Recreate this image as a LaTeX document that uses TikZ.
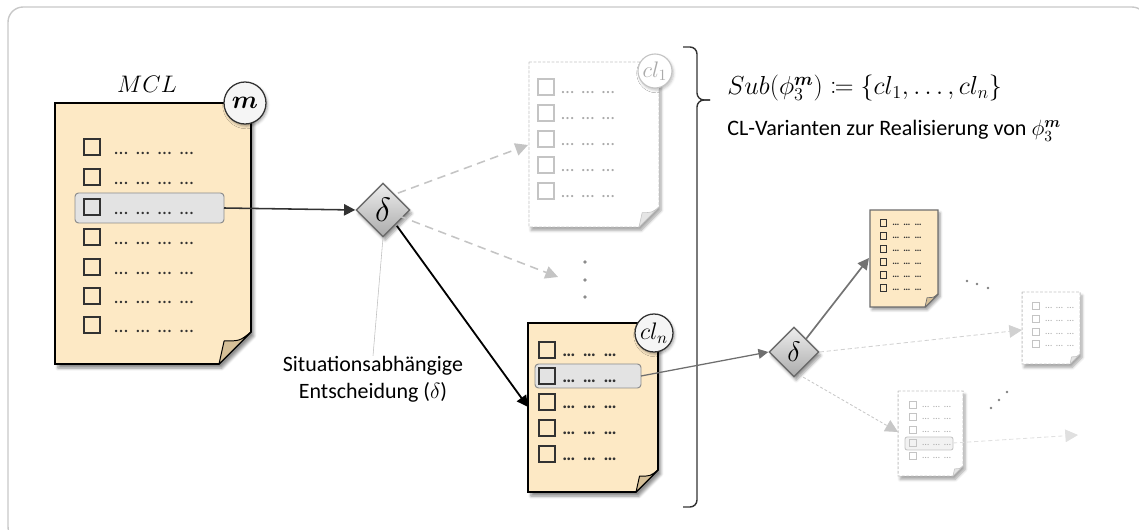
\RequirePackage{fix-cm}
\documentclass[tikz,border=0pt]{standalone}
\usepackage{amsmath,bm,mathtools}
\usepackage{fontspec}
\setmainfont{Carlito}
\usetikzlibrary{arrows.meta,shapes.geometric,shadows.blur,fit,calc}

\definecolor{paper}{RGB}{253,233,197}
\definecolor{foldtan}{RGB}{214,192,152}
\definecolor{hlfill}{RGB}{227,227,227}
\definecolor{hlline}{RGB}{140,140,140}
\definecolor{framegray}{RGB}{200,200,200}
\definecolor{fade}{RGB}{196,196,196}
\definecolor{fadetext}{RGB}{170,170,170}
\definecolor{inkdark}{RGB}{50,50,50}
\definecolor{midgray}{RGB}{110,110,110}

\tikzset{
  docsolid/.style={fill=paper, draw=black, line width=1.1pt, line join=miter,
    blur shadow={shadow xshift=2pt, shadow yshift=-3pt, shadow blur steps=6, shadow opacity=45}},
  docsmall/.style={fill=paper, draw=midgray, line width=1pt, line join=miter,
    blur shadow={shadow xshift=1.5pt, shadow yshift=-2pt, shadow blur steps=5, shadow opacity=40}},
  docfaded/.style={fill=white, draw=fade, dashed, dash pattern=on 2pt off 1.2pt, line width=0.7pt,
    blur shadow={shadow xshift=1.5pt, shadow yshift=-2.5pt, shadow blur steps=6, shadow opacity=35}},
  foldsolid/.style={fill=foldtan, draw=black, line width=0.7pt, line join=round},
  foldsmall/.style={fill=foldtan, draw=midgray, line width=0.5pt, line join=round},
  foldfaded/.style={fill=black!10, draw=fade, line width=0.4pt, line join=round},
  boxsolid/.style={draw=inkdark, line width=0.9pt},
  boxsmall/.style={draw=inkdark, line width=0.5pt},
  boxfaded/.style={draw=fade, line width=0.8pt},
  boxfadedsmall/.style={draw=fade, line width=0.5pt},
  dotstext/.style={inner sep=0pt, anchor=base west, text=inkdark},
  hlbar/.style={fill=hlfill, draw=hlline, line width=0.7pt, rounded corners=2.5pt},
  hlbarfaded/.style={fill=black!5, draw=fade, line width=0.6pt, rounded corners=1.5pt},
  tagcircle/.style={circle, inner sep=0pt, fill=white!96!black, draw=inkdark, line width=0.9pt,
    blur shadow={shadow xshift=1pt, shadow yshift=-1.5pt, shadow blur steps=4, shadow opacity=35}},
  tagfaded/.style={circle, inner sep=0pt, fill=white, draw=fade, line width=0.8pt, text=fadetext,
    blur shadow={shadow xshift=1pt, shadow yshift=-1.5pt, shadow blur steps=4, shadow opacity=25}},
  decision/.style={diamond, aspect=1, inner sep=0pt, top color=black!7, bottom color=black!33,
    draw=black!58, line width=1pt,
    blur shadow={shadow xshift=1.5pt, shadow yshift=-2.5pt, shadow blur steps=5, shadow opacity=40}},
  tip/.style={-{Triangle[length=8pt,width=8pt]}},
  smalltip/.style={-{Triangle[length=7pt,width=7pt]}},
  fadetip/.style={-{Triangle[length=9pt,width=9pt]}},
  ghostdot/.style={fill=black!45, draw=none},
}

% wider word gaps between the ellipsis groups
\newcommand\dotsfont[1]{\fontsize{#1}{#1}\selectfont\spaceskip=0.42em plus 0em minus 0em\relax}

% paper sheet with a folded lower right corner, plus a named box over it
\newcommand\paperdoc[7][]{%
  \path[#1] (#3,#4) -- (#5,#4) -- (#5,#6-#7) -- (#5-#7,#6) -- (#3,#6) -- cycle;
  \node[fit={(#3,#4) (#5,#6)}, inner sep=0pt] (#2) {};
}
\newcommand\paperfold[4][]{%
  \path[#1] (#2,#3-#4) .. controls (#2-0.35*#4,#3-0.72*#4) .. (#2-0.84*#4,#3-0.72*#4)
     -- (#2-#4,#3) -- cycle;
}

\begin{document}
\begin{tikzpicture}[x=0.025cm,y=-0.025cm]
\useasboundingbox (0,0) rectangle (1139,530);
\begin{scope}
\clip (0,0) rectangle (1139,530);
\draw[framegray, line width=1pt, rounded corners=0.38cm] (8,7) rectangle (1147,542);
\end{scope}

% ---------------- master checklist MCL ----------------
\paperdoc[docsolid]{mcl}{55}{103}{251}{364}{32}
\paperfold[foldsolid]{251}{364}{32}
\path[hlbar] (75,193) rectangle (224,223);
\coordinate (mclsel) at (224,208);
\foreach \yy [count=\i] in {147,177,207,237,267,296,325}{
  \draw[boxsolid] (84,\yy-8) rectangle (100,\yy+8);
  \node[dotstext, font=\dotsfont{14}] (mclrow\i) at (114,\yy+8) {… … … …};
}
\node[tagcircle, minimum size=1.05cm, font=\fontsize{18}{18}\selectfont] (tagm) at (245,103) {$\bm{m}$};
\node[font=\fontsize{17}{17}\selectfont] (mcllabel) at (147,84) {$MCL$};

% ---------------- first decision ----------------
\node[decision, minimum size=1.35cm, font=\fontsize{24}{24}\selectfont] (dec1) at (383,210) {$\delta$};

% ---------------- variant cl_1 (not chosen) ----------------
\paperdoc[docfaded]{clone}{529}{62}{659}{227}{20}
\paperfold[foldfaded]{659}{227}{20}
\foreach \yy [count=\i] in {87,113,139,165,191}{
  \draw[boxfaded] (538,\yy-8) rectangle (554,\yy+8);
  \node[dotstext, text=fadetext, font=\dotsfont{13}] (clonerow\i) at (561,\yy+7) {… … …};
}
\node[tagfaded, minimum size=0.85cm, font=\fontsize{16}{16}\selectfont] (tagone) at (655,71) {$cl_1$};

% vertical ellipsis between the variants
\foreach \yy [count=\i] in {262,280,297}{
  \fill[ghostdot] (585,\yy) circle (1.8) coordinate (vdot\i);
}
\coordinate (midtarget) at (558,277);

% ---------------- variant cl_n (chosen) ----------------
\paperdoc[docsolid]{cln}{528}{323}{658}{492}{22}
\paperfold[foldsolid]{658}{492}{22}
\path[hlbar] (535,364) rectangle (641,388);
\coordinate (clnsel) at (641,376);
\foreach \yy [count=\i] in {350,376,402,428,454}{
  \draw[boxsolid] (539,\yy-8) rectangle (555,\yy+8);
  \node[dotstext, font=\bfseries\dotsfont{13}] (clnrow\i) at (562,\yy+7) {… … …};
}
\node[tagcircle, minimum size=0.95cm, font=\fontsize{17}{17}\selectfont] (tagn) at (654,333) {$cl_n$};

% ---------------- brace and set definition ----------------
\coordinate (brtop) at (683,47);
\coordinate (brbot) at (683,507);
\coordinate (brtip) at (710,100);
\draw[inkdark, line width=1pt, rounded corners=5pt] (brtop) -- (697,47) -- (697,100) -- (brtip);
\draw[inkdark, line width=1pt, rounded corners=5pt] (brtip) -- (697,100) -- (697,507) -- (brbot);
\node[anchor=west, inner sep=0pt, font=\fontsize{18.5}{19}\selectfont] (subdef) at (727,88)
  {$Sub(\phi_3^{\bm{m}}) \coloneqq \{cl_1, \ldots, cl_n\}$};
\node[anchor=west, inner sep=0pt, font=\fontsize{15.7}{16}\selectfont] (subtext) at (727,131)
  {CL-Varianten zur Realisierung von $\phi_3^{\bm{m}}$};

% ---------------- decision label ----------------
\node[align=center, inner sep=0pt, font=\fontsize{15.6}{19}\selectfont] (declabel) at (373,379)
  {Situationsabhängige\\Entscheidung ($\delta$)};
\draw[black!25, line width=0.4pt] (dec1.south) -- (declabel.north);

% ---------------- second decision ----------------
\node[decision, minimum size=1.25cm, font=\fontsize{20}{20}\selectfont] (dec2) at (794,352) {$\delta$};

% next checklist (chosen)
\paperdoc[docsmall]{nexta}{870}{210}{938}{307}{13}
\paperfold[foldsmall]{938}{307}{13}
\foreach \yy [count=\i] in {223,236,249,262,275,288}{
  \draw[boxsmall] (880,\yy-3.3) rectangle (886.6,\yy+3.3);
  \node[dotstext, font=\bfseries\dotsfont{7}] (nextarow\i) at (892,\yy+3) {… … …};
}

% next checklist (not chosen, right)
\paperdoc[docfaded]{nextb}{1022}{292}{1080}{364}{10}
\paperfold[foldfaded]{1080}{364}{10}
\foreach \yy [count=\i] in {306,319,332,344}{
  \draw[boxfadedsmall] (1032,\yy-3.5) rectangle (1039,\yy+3.5);
  \node[dotstext, text=fadetext, font=\dotsfont{7}] (nextbrow\i) at (1045,\yy+3) {… … …};
}

% next checklist (not chosen, bottom)
\paperdoc[docfaded]{nextc}{898}{391}{963}{476}{10}
\paperfold[foldfaded]{963}{476}{10}
\path[hlbarfaded] (905,437) rectangle (953,450);
\coordinate (nextcsel) at (953,443);
\foreach \yy [count=\i] in {405,417,430,443,456}{
  \draw[boxfadedsmall] (909,\yy-3.5) rectangle (916,\yy+3.5);
  \node[dotstext, text=fadetext, font=\dotsfont{7}] (nextcrow\i) at (922,\yy+3) {… … …};
}
\coordinate (farend) at (1078,435);

% diagonal ellipses
\foreach \xx/\yy [count=\i] in {967/281,977/284,988/288}{
  \fill[black!50] (\xx,\yy) circle (1.3) coordinate (ddotA\i);
}
\foreach \xx/\yy [count=\i] in {991/408,999/400,1007/392}{
  \fill[black!50] (\xx,\yy) circle (1.3) coordinate (ddotB\i);
}

% ---------------- connectors ----------------
\draw[tip, inkdark, line width=1.1pt] (mclsel) -- (dec1.west);
\draw[fadetip, fade, line width=1.1pt, dash pattern=on 6pt off 4pt] (dec1.north east) ++(1,-3) -- (528,145);
\draw[fadetip, fade, line width=1.1pt, dash pattern=on 6pt off 4pt] ($(dec1.south east)+(2,-8)$) -- (midtarget);
\draw[tip, black, line width=1.3pt] ($(dec1.south east)+(0,2)$) -- (528,407);

\draw[smalltip, midgray, line width=0.9pt] (clnsel) -- (dec2.west);
\draw[tip, black!55, line width=1.2pt] ($(dec2.north east)+(-1,0)$) -- (869,258);
\draw[fadetip, black!18, line width=0.6pt, dash pattern=on 3pt off 2pt] (dec2.east) -- (1022,330);
\draw[fadetip, black!22, line width=0.6pt, dash pattern=on 2pt off 1.5pt] ($(dec2.south)+(5,-3)$) -- (898,432);
\draw[fadetip, black!12, line width=0.6pt, dash pattern=on 3pt off 2pt] (nextcsel) -- (farend);
\end{tikzpicture}
\end{document}
